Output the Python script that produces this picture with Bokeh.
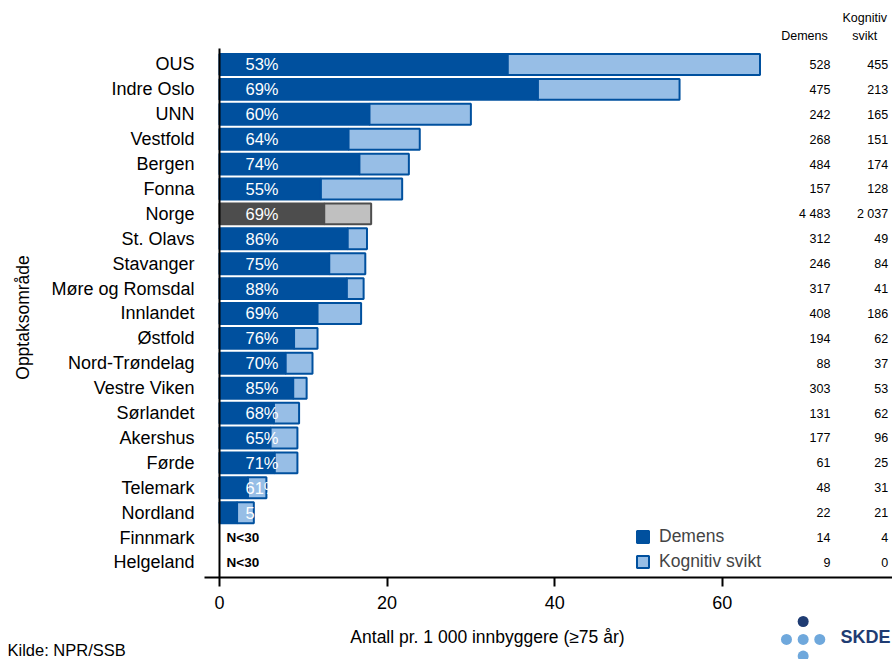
import math
from bokeh.plotting import figure
from bokeh.models import Range1d, FixedTicker, ColumnDataSource, Legend, LegendItem
from bokeh.core.properties import value
from bokeh.embed import file_html
from bokeh.resources import INLINE

# ---------------- data (top to bottom) ----------------
categories = ["OUS", "Indre Oslo", "UNN", "Vestfold", "Bergen", "Fonna", "Norge",
              "St. Olavs", "Stavanger", "Møre og Romsdal", "Innlandet", "Østfold",
              "Nord-Trøndelag", "Vestre Viken", "Sørlandet", "Akershus", "Førde",
              "Telemark", "Nordland", "Finnmark", "Helgeland"]
# rate per 1 000 inhabitants (>=75 years); None = N<30
demens_rate = [34.4, 38.0, 17.9, 15.4, 16.7, 12.1, 12.5, 15.3, 13.1, 15.2, 11.7, 8.9,
               7.9, 8.8, 6.5, 6.1, 6.6, 3.4, 2.1, None, None]
kognitiv_rate = [30.1, 16.9, 12.1, 8.5, 5.9, 9.7, 5.6, 2.3, 4.3, 2.0, 5.2, 2.8,
                 3.2, 1.6, 3.0, 3.2, 2.7, 2.2, 2.0, None, None]
pct_labels = ["53%", "69%", "60%", "64%", "74%", "55%", "69%", "86%", "75%", "88%",
              "69%", "76%", "70%", "85%", "68%", "65%", "71%", "61%", "51%", "", ""]
demens_n = [528, 475, 242, 268, 484, 157, 4483, 312, 246, 317, 408, 194, 88, 303,
            131, 177, 61, 48, 22, 14, 9]
kognitiv_n = [455, 213, 165, 151, 174, 128, 2037, 49, 84, 41, 186, 62, 37, 53,
              62, 96, 25, 31, 21, 4, 0]
x_ticks = [0, 20, 40, 60]
series_names = ["Demens", "Kognitiv svikt"]
x_title = "Antall pr. 1 000 innbyggere (≥75 år)"
y_title = "Opptaksområde"
source_note = "Kilde: NPR/SSB"

# ---------------- styling ----------------
FONT = "Liberation Sans"
DARK = "#00509E"
LIGHT = "#97BEE6"
NORGE_DARK = "#4D4D4D"
NORGE_LIGHT = "#C0C0C0"
LOGO_DARK = "#1F3C73"
LOGO_LIGHT = "#6FA8DC"

n = len(categories)
ypos = [n - 1 - i for i in range(n)]
Y_AXIS_BOTTOM = -0.602
Y_AXIS_TOP = 20.64
X_LEFT = -1.8


def fmt(v):
    return f"{v:,}".replace(",", " ")


def subset(pred):
    idx = [i for i in range(n) if pred(i) and demens_rate[i] is not None]
    return dict(
        y=[ypos[i] for i in idx],
        d=[demens_rate[i] for i in idx],
        t=[demens_rate[i] + kognitiv_rate[i] for i in idx],
        pct=[pct_labels[i] for i in idx],
    )


blue_src = ColumnDataSource(subset(lambda i: categories[i] != "Norge"))
grey_src = ColumnDataSource(subset(lambda i: categories[i] == "Norge"))
all_src = ColumnDataSource(subset(lambda i: True))
small_idx = [i for i in range(n) if demens_rate[i] is None]
small_src = ColumnDataSource(dict(y=[ypos[i] for i in small_idx], txt=["N<30"] * len(small_idx)))
table_src = ColumnDataSource(dict(y=ypos, dn=[fmt(v) for v in demens_n], kn=[fmt(v) for v in kognitiv_n]))

p = figure(width=892, height=659,
           x_range=Range1d(-26.13, 80.31), y_range=Range1d(-3.896, 22.57),
           output_backend="svg", toolbar_location=None,
           min_border_left=0, min_border_right=0, min_border_top=0, min_border_bottom=0)
p.outline_line_color = None
p.xgrid.visible = False
p.ygrid.visible = False
p.background_fill_color = "white"

# bars
r_dem = p.hbar(y="y", left=0, right="d", height=0.84, source=blue_src,
               fill_color=DARK, line_color=DARK, line_width=2)
r_kog = p.hbar(y="y", left="d", right="t", height=0.84, source=blue_src,
               fill_color=LIGHT, line_color=DARK, line_width=2)
p.hbar(y="y", left=0, right="d", height=0.84, source=grey_src,
       fill_color=NORGE_DARK, line_color=NORGE_DARK, line_width=2)
p.hbar(y="y", left="d", right="t", height=0.84, source=grey_src,
       fill_color=NORGE_LIGHT, line_color=NORGE_DARK, line_width=2)

# percentage labels (white text; invisible beyond the bar end, as in the original)
p.text(x=3.1, y="y", text="pct", source=all_src, text_color="white",
       text_font=value(FONT), text_font_size="16.5px", text_align="left", text_baseline="middle")
p.text(x=0.85, y="y", text="txt", source=small_src, text_color="black",
       text_font=value(FONT), text_font_size="13.5px", text_font_style="bold",
       text_align="left", text_baseline="middle")

# right table
p.text(x=72.9, y="y", text="dn", source=table_src, text_color="black",
       text_font=value(FONT), text_font_size="12.5px", text_align="right", text_baseline="middle")
p.text(x=79.8, y="y", text="kn", source=table_src, text_color="black",
       text_font=value(FONT), text_font_size="12.5px", text_align="right", text_baseline="middle")
hdr = ColumnDataSource(dict(x=[69.8, 77.0, 77.0], y=[21.16, 21.85, 21.16],
                            t=["Demens", "Kognitiv", "svikt"]))
p.text(x="x", y="y", text="t", source=hdr, text_color="black",
       text_font=value(FONT), text_font_size="12.5px", text_align="center", text_baseline="middle")

# axis titles, source note
p.text(x=[-23.39], y=[9.84], text=[y_title], angle=math.pi / 2, text_color="black",
       text_font=value(FONT), text_font_size="17.5px", text_align="center", text_baseline="middle")
p.text(x=[31.98], y=[-3.01], text=[x_title], text_color="black",
       text_font=value(FONT), text_font_size="17.5px", text_align="center", text_baseline="middle")
p.text(x=[-25.3], y=[-3.53], text=[source_note], text_color="black",
       text_font=value(FONT), text_font_size="16.5px", text_align="left", text_baseline="middle")

# SKDE logo
p.scatter(x=[69.65, 67.66, 69.65, 71.63, 69.65], y=[-2.37, -3.09, -3.09, -3.09, -3.76],
          size=11, marker="circle", line_color=None,
          fill_color=[LOGO_DARK, LOGO_LIGHT, LOGO_LIGHT, LOGO_LIGHT, LOGO_LIGHT])
p.text(x=[74.1], y=[-3.01], text=["SKDE"], text_color=LOGO_DARK, text_font=value(FONT),
       text_font_size="18px", text_font_style="bold", text_align="left", text_baseline="middle")

# axes (fixed inside the frame)
xa = p.xaxis[0]
xa.fixed_location = Y_AXIS_BOTTOM
xa.bounds = (X_LEFT, 80.31)
xa.ticker = FixedTicker(ticks=x_ticks)
xa.minor_tick_line_color = None
xa.major_tick_in = 0
xa.major_tick_out = 9
xa.major_tick_line_width = 2
xa.axis_line_width = 2
xa.major_label_text_font = FONT
xa.major_label_text_font_size = "18px"
xa.major_label_text_color = "black"
xa.major_label_standoff = 10

ya = p.yaxis[0]
ya.fixed_location = 0
ya.bounds = (Y_AXIS_BOTTOM, Y_AXIS_TOP)
ya.ticker = FixedTicker(ticks=ypos)
ya.major_label_overrides = {ypos[i]: categories[i] for i in range(n)}
ya.axis_line_width = 2
ya.axis_line_color = "black"
ya.major_tick_line_color = None
ya.minor_tick_line_color = None
ya.major_label_standoff = 19
ya.major_label_text_font = FONT
ya.major_label_text_font_size = "18px"
ya.major_label_text_color = "black"

# legend
legend = Legend(items=[LegendItem(label=series_names[0], renderers=[r_dem]),
                       LegendItem(label=series_names[1], renderers=[r_kog])],
                location=(635, 87), glyph_width=15, glyph_height=15, label_standoff=9,
                spacing=4, padding=0, margin=0, label_height=20,
                label_text_font=FONT, label_text_font_size="17.5px",
                background_fill_alpha=0, border_line_color=None)
p.add_layout(legend)

open("out.html", "w").write(file_html(p, INLINE))
